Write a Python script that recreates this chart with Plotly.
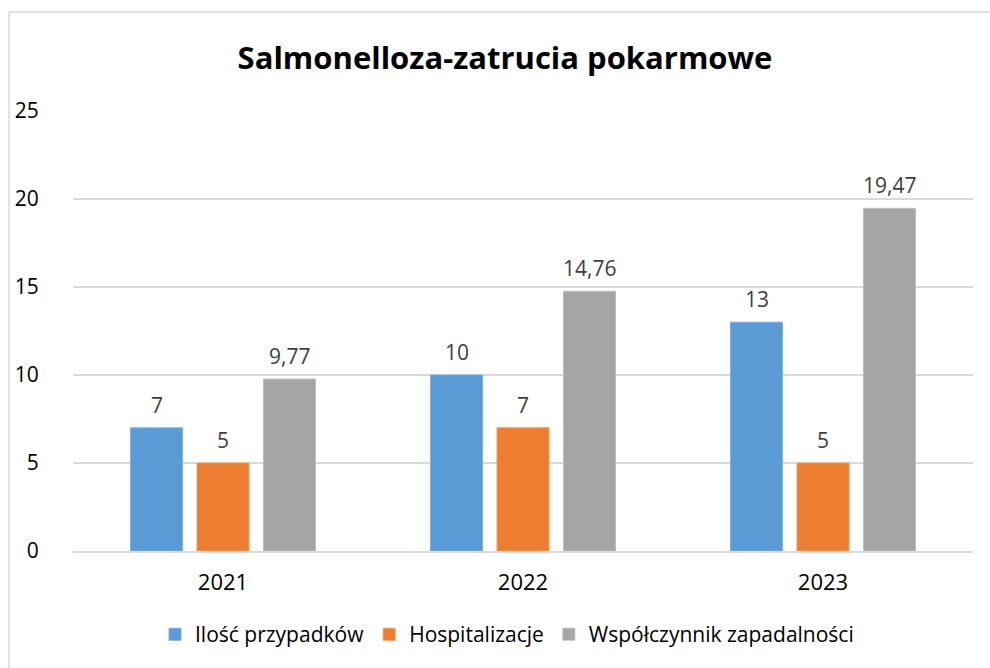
import plotly.graph_objects as go

years = ["2021", "2022", "2023"]
series_names = ["Ilość przypadków", "Hospitalizacje", "Współczynnik zapadalności"]
ilosc = [7, 10, 13]
hosp = [5, 7, 5]
wspol = [9.77, 14.76, 19.47]
colors = ["#5B9BD5", "#ED7D31", "#A5A5A5"]
line_colors = ["#7FB0DE", "#F19A5E", "#BDBDBD"]
title_text = "Salmonelloza-zatrucia pokarmowe"

FONT = "Open Sans"
all_series = [ilosc, hosp, wspol]

fig = go.Figure()
for name, vals, c, lc in zip(series_names, all_series, colors, line_colors):
    fig.add_trace(go.Bar(
        x=years, y=vals, name=name,
        marker=dict(color=c, line=dict(color=lc, width=1)),
    ))

# data labels above bars (x given as category index)
slot_px = 66.5
for i, vals in enumerate(all_series):
    for ci, v in enumerate(vals):
        txt = f"{v:g}".replace(".", ",")
        fig.add_annotation(
            x=ci, y=v, xref="x", yref="y", text=txt, showarrow=False,
            xshift=(i - 1) * slot_px, yshift=7, yanchor="bottom",
            font=dict(family=FONT, size=21, color="#404040"),
        )

# outer chart border
fig.add_shape(type="rect", xref="paper", yref="paper",
              x0=-0.0711, x1=1.2, y0=-0.6, y1=1.225,
              line=dict(color="#D9D9D9", width=1.5), fillcolor="rgba(0,0,0,0)",
              layer="below")

fig.update_layout(
    width=990, height=668,
    margin=dict(l=73, r=17, t=111, b=117, autoexpand=False),
    paper_bgcolor="white", plot_bgcolor="white",
    barmode="group", bargap=0.335, bargroupgap=0.218,
    separators=", ",
    title=dict(text=f"<b>{title_text}</b>", x=505/990, xanchor="center",
               xref="container", y=1 - 58/668, yanchor="middle", yref="container",
               font=dict(family=FONT, size=31, color="#000000")),
    font=dict(family=FONT, size=21, color="#000000"),
    yaxis=dict(range=[0, 25], autorange=False, dtick=5, showgrid=True, gridcolor="#D9D9D9",
               gridwidth=1.5, zeroline=False, showline=False,
               ticks="outside", ticklen=29, tickcolor="rgba(0,0,0,0)",
               tickfont=dict(family=FONT, size=21, color="#000000")),
    xaxis=dict(type="category", range=[-0.5, 2.5], autorange=False,
               showline=True, linecolor="#D9D9D9", linewidth=1.5,
               ticks="outside", ticklen=11, tickcolor="rgba(0,0,0,0)",
               tickfont=dict(family=FONT, size=22, color="#000000")),
    legend=dict(orientation="h", x=(507 - 73) / 900, xanchor="center", y=-0.19, yanchor="middle",
                font=dict(family=FONT, size=21, color="#000000"),
                itemwidth=30, traceorder="normal"),
    showlegend=True,
)

fig.write_html("out.html", config={"displayModeBar": False},
               post_script="document.body.style.margin='0px';")
